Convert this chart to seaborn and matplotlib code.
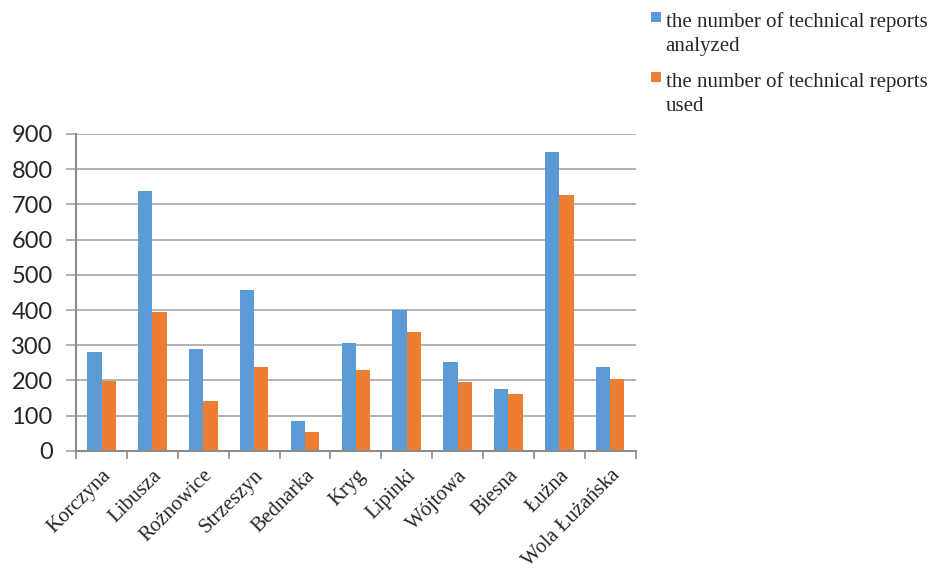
import matplotlib
matplotlib.use("Agg")
import matplotlib.pyplot as plt
import seaborn as sns
import pandas as pd
from matplotlib.patches import Patch, Rectangle
from matplotlib.legend_handler import HandlerPatch

categories = ["Korczyna", "Libusza", "Rożnowice", "Strzeszyn", "Bednarka", "Kryg",
              "Lipinki", "Wójtowa", "Biesna", "Łużna", "Wola Łużańska"]
analyzed = [280, 738, 289, 456, 86, 306, 400, 252, 177, 849, 237]
used = [198, 395, 141, 237, 54, 230, 338, 195, 161, 727, 204]
series_names = ["the number of technical reports\nanalyzed",
                "the number of technical reports\nused"]
yticks = [0, 100, 200, 300, 400, 500, 600, 700, 800, 900]

df = pd.DataFrame({
    "place": categories * 2,
    "value": analyzed + used,
    "series": [series_names[0]] * len(categories) + [series_names[1]] * len(categories),
})

sns.set_theme(style="white")
colors = ["#5B9BD5", "#ED7D31"]

fig = plt.figure(figsize=(9.34, 5.70), dpi=100)
ax = fig.add_axes([0.0815, 0.209, 0.599, 0.556])
sns.barplot(data=df, x="place", y="value", hue="series", palette=colors,
            width=0.56, gap=0, ax=ax, legend=False, saturation=1, linewidth=0)

ax.set_ylim(0, 900)
ax.set_xlim(-0.5, len(categories) - 0.5)
ax.set_yticks(yticks)
ax.set_yticklabels([str(v) for v in yticks], fontsize=17, family="Lato")
ax.yaxis.grid(True, color="#A6A6A6", linewidth=1.2)
ax.set_axisbelow(True)
ax.set_xlabel("")
ax.set_ylabel("")

ax.set_xticks(range(len(categories)))
ax.set_xticklabels(categories, rotation=45, ha="right", rotation_mode="anchor",
                   fontsize=15, family="Liberation Serif")
ax.tick_params(axis="x", length=0, pad=11)
ax.tick_params(axis="y", length=7, width=1.2, color="#A6A6A6", direction="out", left=True, pad=10)
ax.set_xticks([i - 0.5 for i in range(len(categories) + 1)], minor=True)
ax.tick_params(axis="x", which="minor", length=6, width=1.2, color="#8C8C8C", direction="out", bottom=True)

for s in ["top", "right"]:
    ax.spines[s].set_visible(False)
for s in ["left", "bottom"]:
    ax.spines[s].set_color("#8C8C8C")
    ax.spines[s].set_linewidth(1.5)


class TopSquare(HandlerPatch):
    def create_artists(self, legend, orig_handle, xdescent, ydescent, width, height,
                       fontsize, trans):
        side = width
        shift = 0.8 * fontsize
        p = Rectangle((-xdescent, -ydescent + (height - side) / 2 + shift), side, side,
                      facecolor=orig_handle.get_facecolor(), edgecolor="none",
                      transform=trans)
        return [p]


handles = [Patch(facecolor=c, edgecolor="none") for c in colors]
leg = fig.legend(handles, series_names, loc="upper left", bbox_to_anchor=(0.677, 1.012),
                 frameon=False, prop={"family": "Liberation Serif", "size": 15},
                 handlelength=0.5, handleheight=0.5, handletextpad=0.2, labelspacing=0.8,
                 handler_map={Patch: TopSquare()})
for t in leg.get_texts():
    t.set_linespacing(1.35)

fig.savefig("out.png", dpi=100)
